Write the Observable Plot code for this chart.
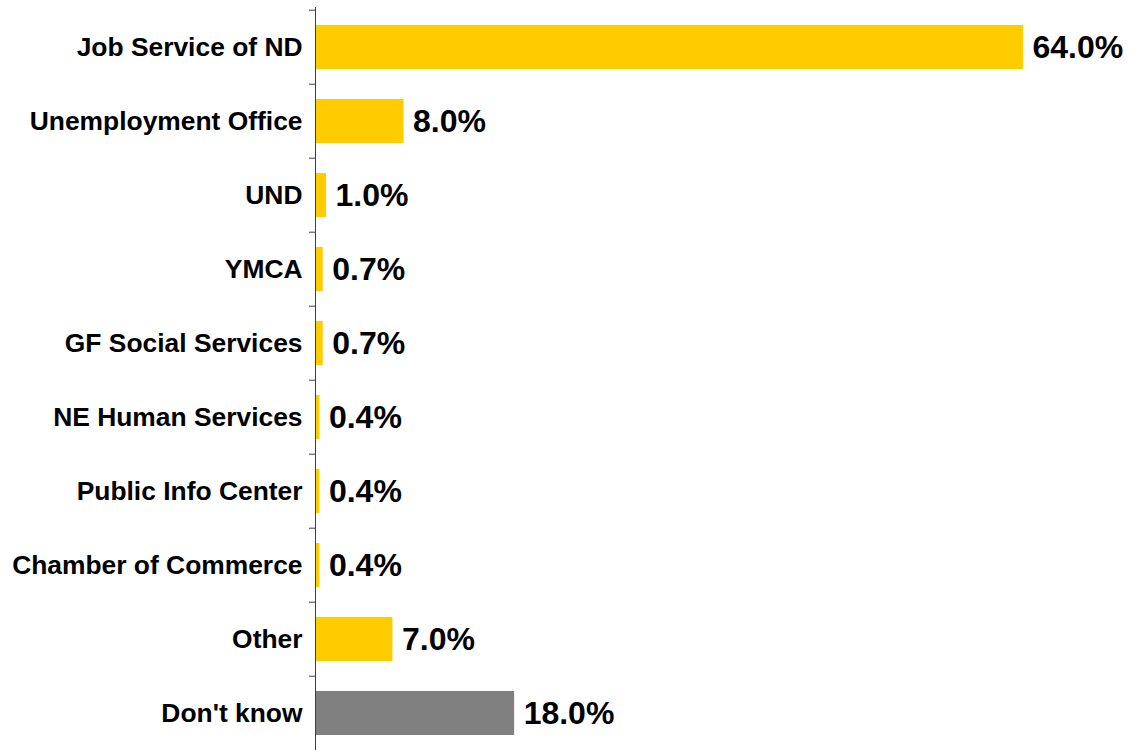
<!DOCTYPE html>
<html>
<head>
<meta charset="utf-8">
<script src="https://cdn.jsdelivr.net/npm/d3@7"></script>
<script src="https://cdn.jsdelivr.net/npm/@observablehq/plot@0.6"></script>
<style>
  html, body { margin: 0; padding: 0; background: #fff; }
  #chart svg { display: block; }
</style>
</head>
<body>
<div id="chart"></div>
<script>
const categories = [
  "Job Service of ND",
  "Unemployment Office",
  "UND",
  "YMCA",
  "GF Social Services",
  "NE Human Services",
  "Public Info Center",
  "Chamber of Commerce",
  "Other",
  "Don't know"
];
const values = [64.0, 8.0, 1.0, 0.7, 0.7, 0.4, 0.4, 0.4, 7.0, 18.0];

const data = categories.map((c, i) => ({cat: c, value: values[i]}));

const W = 1129, H = 760, mT = 7, mB = 7;
const step = (H - mT - mB) / categories.length;
const font = "'Liberation Sans', Arial, sans-serif";

const chart = Plot.plot({
  width: W,
  height: H,
  marginLeft: 315,
  marginRight: 106,
  marginTop: mT,
  marginBottom: mB,
  style: {fontFamily: font, background: "#fff"},
  x: {domain: [0, 64], axis: null},
  y: {domain: categories, paddingInner: 0.41, paddingOuter: 0.205, label: null, axis: null},
  marks: [
    Plot.barX(data, {
      y: "cat",
      x: "value",
      fill: d => d.cat === "Don't know" ? "#808080" : "#FFCC00"
    }),
    Plot.ruleX([0], {stroke: "#404040", strokeWidth: 1}),
    Plot.axisY({
      anchor: "left",
      tickSize: 6,
      stroke: "#404040",
      tickFormat: () => "",
      dy: -step / 2,
      label: null
    }),
    Plot.axisY({
      anchor: "left",
      tickSize: 0,
      tickPadding: 13,
      fontSize: 26.4,
      fontWeight: "bold",
      fill: "#000",
      label: null
    }),
    Plot.text(data, {
      y: "cat",
      x: "value",
      text: d => d.value.toFixed(1) + "%",
      textAnchor: "start",
      dx: 9,
      fontSize: 32,
      fontWeight: "bold",
      fill: "#000"
    })
  ]
});
document.getElementById("chart").appendChild(chart);
</script>
</body>
</html>
